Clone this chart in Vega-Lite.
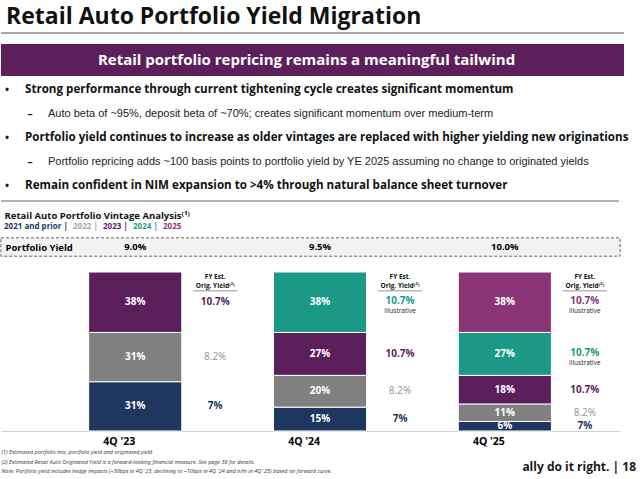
{
  "$schema": "https://vega.github.io/schema/vega-lite/v6.json",
  "padding": {"top": 6, "left": 0, "right": 0, "bottom": 0},
  "background": "white",
  "spacing": 0,
  "config": {
    "view": {"stroke": null},
    "font": "Open Sans",
    "title": {"font": "Open Sans"},
    "axis": {"labelFont": "Open Sans", "titleFont": "Open Sans"},
    "legend": {"labelFont": "Open Sans"}
  },
  "resolve": {"scale": {"color": "independent"}, "legend": {"color": "independent"}},
  "title": {
    "text": "ally do it right.  |  18",
    "orient": "bottom",
    "anchor": "end",
    "fontSize": 12,
    "fontWeight": "bold",
    "color": "#1a1a1a",
    "offset": -12,
    "dx": -5
  },
  "datasets": {
    "banner": [{"text": "Retail portfolio repricing remains a meaningful tailwind"}],
    "bullets": [
      {"line": 1, "level": "main", "text": "Strong performance through current tightening cycle creates significant momentum"},
      {"line": 2, "level": "sub", "text": "Auto beta of ~95%, deposit beta of ~70%; creates significant momentum over medium-term"},
      {"line": 3, "level": "main", "text": "Portfolio yield continues to increase as older vintages are replaced with higher yielding new originations"},
      {"line": 4, "level": "sub", "text": "Portfolio repricing adds ~100 basis points to portfolio yield by YE 2025 assuming no change to originated yields"},
      {"line": 5, "level": "main", "text": "Remain confident in NIM expansion to >4% through natural balance sheet turnover"}
    ],
    "yields": [
      {"quarter": "4Q '23", "yield": "9.0%"},
      {"quarter": "4Q '24", "yield": "9.5%"},
      {"quarter": "4Q '25", "yield": "10.0%"}
    ],
    "bars": [
      {"quarter": "4Q '23", "vintage": "2021 and prior", "share": 0.31, "orig": "7%", "note": ""},
      {"quarter": "4Q '23", "vintage": "2022", "share": 0.31, "orig": "8.2%", "note": ""},
      {"quarter": "4Q '23", "vintage": "2023", "share": 0.38, "orig": "10.7%", "note": ""},
      {"quarter": "4Q '24", "vintage": "2021 and prior", "share": 0.15, "orig": "7%", "note": ""},
      {"quarter": "4Q '24", "vintage": "2022", "share": 0.20, "orig": "8.2%", "note": ""},
      {"quarter": "4Q '24", "vintage": "2023", "share": 0.27, "orig": "10.7%", "note": ""},
      {"quarter": "4Q '24", "vintage": "2024", "share": 0.38, "orig": "10.7%", "note": "Illustrative"},
      {"quarter": "4Q '25", "vintage": "2021 and prior", "share": 0.06, "orig": "7%", "note": ""},
      {"quarter": "4Q '25", "vintage": "2022", "share": 0.11, "orig": "8.2%", "note": ""},
      {"quarter": "4Q '25", "vintage": "2023", "share": 0.18, "orig": "10.7%", "note": ""},
      {"quarter": "4Q '25", "vintage": "2024", "share": 0.27, "orig": "10.7%", "note": "Illustrative"},
      {"quarter": "4Q '25", "vintage": "2025", "share": 0.38, "orig": "10.7%", "note": "Illustrative"}
    ]
  },
  "vconcat": [
    {
      "spacing": 10,
      "vconcat": [
        {
          "title": {"text": "Retail Auto Portfolio Yield Migration", "anchor": "start", "fontSize": 23, "fontWeight": "bold", "color": "#111111", "offset": 3, "dx": 5},
          "width": 623,
          "height": 2,
          "view": {"fill": "#a6a6a6"},
          "data": {"values": []},
          "mark": "point"
        },
        {
          "width": 623,
          "height": 32,
          "view": {"fill": "#5c1f5c"},
          "data": {"name": "banner"},
          "mark": {"type": "text", "color": "white", "fontSize": 15, "fontWeight": "bold", "dx": -6},
          "encoding": {"text": {"field": "text"}}
        }
      ]
    },
    {
      "width": 640,
      "height": 124,
      "data": {"name": "bullets"},
      "encoding": {
        "y": {"field": "line", "type": "ordinal", "scale": {"type": "point", "padding": 0.583}, "axis": null}
      },
      "layer": [
        {
          "mark": {"type": "text", "align": "center", "fontSize": 11, "fontWeight": "bold", "color": "#1a1a1a"},
          "encoding": {
            "x": {"field": "level", "type": "nominal", "scale": {"type": "point", "domain": ["main", "sub"], "range": [6, 29], "padding": 0}, "axis": null},
            "text": {"condition": {"test": "datum.level == 'main'", "value": "•"}, "value": "–"}
          }
        },
        {
          "transform": [{"filter": "datum.level == 'main'"}],
          "mark": {"type": "text", "align": "left", "fontSize": 11.6, "fontWeight": "bold", "color": "#111111"},
          "encoding": {
            "x": {"field": "level", "type": "nominal", "scale": {"type": "point", "domain": ["main", "sub"], "range": [24, 47], "padding": 0}, "axis": null},
            "text": {"field": "text"}
          }
        },
        {
          "transform": [{"filter": "datum.level == 'sub'"}],
          "mark": {"type": "text", "align": "left", "fontSize": 11, "font": "Liberation Sans", "color": "#222222"},
          "encoding": {
            "x": {"field": "level", "type": "nominal", "scale": {"type": "point", "domain": ["main", "sub"], "range": [24, 47], "padding": 0}, "axis": null},
            "text": {"field": "text"}
          }
        }
      ],
      "resolve": {"scale": {"x": "independent"}}
    },
    {
      "spacing": 8,
      "resolve": {"scale": {"color": "independent"}, "legend": {"color": "independent"}},
      "vconcat": [
        {
          "width": 618,
          "height": 2,
          "view": {"fill": "#b3b3b3"},
          "data": {"values": []},
          "mark": "point"
        },
        {
          "width": 619,
          "height": 193,
          "title": {"text": "Retail Auto Portfolio Vintage Analysis⁽¹⁾", "anchor": "start", "fontSize": 9.5, "fontWeight": "bold", "color": "#111111", "offset": 3, "dx": 4},
          "layer": [
            {
              "data": {"name": "yields"},
              "mark": {"type": "rect", "fill": "#f2f2f2", "stroke": "#8c8c8c", "strokeDash": [3, 2], "strokeWidth": 1},
              "encoding": {
                "y": {
                  "datum": 1.10,
                  "type": "quantitative",
                  "scale": {"domain": [0, 1.214], "nice": false, "zero": true},
                  "axis": {
                    "values": [1.157],
                    "labelExpr": "'Portfolio Yield'",
                    "labelAlign": "left",
                    "labelBaseline": "middle",
                    "labelPadding": -4,
                    "tickSize": 0,
                    "ticks": false,
                    "domain": false,
                    "grid": false,
                    "title": null,
                    "minExtent": 0,
                    "zindex": 2,
                    "labelFontSize": 9.5,
                    "labelFontWeight": "bold",
                    "labelColor": "#000000"
                  }
                },
                "y2": {"datum": 1.214}
              }
            },
            {
              "data": {"name": "yields"},
              "mark": {"type": "text", "fontSize": 9.5, "fontWeight": "bold", "color": "#000000"},
              "encoding": {
                "x": {"field": "quarter", "type": "nominal"},
                "y": {"datum": 1.157, "type": "quantitative", "title": null},
                "text": {"field": "yield"}
              }
            },
            {
              "data": {"name": "yields"},
              "mark": {"type": "text", "fontSize": 6.5, "fontWeight": "bold", "color": "#111111", "dx": 80, "lineHeight": 9},
              "encoding": {
                "x": {"field": "quarter", "type": "nominal"},
                "y": {"datum": 0.969, "type": "quantitative", "title": null},
                "text": {"value": ["FY  Est.", "Orig. Yield⁽²⁾"]}
              }
            },
            {
              "data": {"name": "yields"},
              "mark": {"type": "tick", "color": "#333333", "thickness": 0.8, "size": 44, "xOffset": 80, "orient": "horizontal"},
              "encoding": {
                "x": {"field": "quarter", "type": "nominal"},
                "y": {"datum": 0.881, "type": "quantitative", "title": null}
              }
            },
            {
              "data": {"name": "bars"},
              "mark": {"type": "bar", "stroke": "white", "strokeWidth": 1},
              "encoding": {
                "x": {
                  "field": "quarter",
                  "type": "nominal",
                  "scale": {"type": "band", "paddingInner": 0.496, "paddingOuter": 0.4228, "align": 0.561},
                  "axis": {
                    "orient": "bottom",
                    "labelAngle": 0,
                    "labelFontSize": 10.5,
                    "labelFontWeight": "bold",
                    "labelColor": "#000000",
                    "labelPadding": 10,
                    "ticks": false,
                    "grid": false,
                    "domainColor": "#d0d0d0",
                    "domainWidth": 1,
                    "title": [
                      "(1)   Estimated portfolio mix, portfolio yield and originated yield.",
                      "(2)   Estimated Retail Auto Originated Yield is a forward-looking financial measure. See page 38 for details.",
                      "Note: Portfolio yield includes hedge impacts (~50bps in 4Q '23, declining to ~10bps in 4Q '24 and n/m in 4Q '25) based on forward curve."
                    ],
                    "titleAnchor": "start",
                    "titleAlign": "left",
                    "titleFontSize": 5.5,
                    "titleFontStyle": "italic",
                    "titleFontWeight": "normal",
                    "titleColor": "#333333",
                    "titlePadding": 3,
                    "titleLineHeight": 9.5
                  }
                },
                "y": {"field": "share", "type": "quantitative", "stack": "zero", "title": null},
                "order": {"field": "vintage", "sort": "ascending"},
                "color": {
                  "field": "vintage",
                  "type": "nominal",
                  "scale": {
                    "domain": ["2021 and prior", "2022", "2023", "2024", "2025"],
                    "range": ["#1f365f", "#808080", "#5b1f5b", "#1b9986", "#8b3579"]
                  },
                  "legend": {
                    "orient": "top",
                    "direction": "horizontal",
                    "title": null,
                    "symbolOpacity": 0,
                    "symbolSize": 1,
                    "symbolStrokeWidth": 0,
                    "labelOffset": -5,
                    "columnPadding": 2,
                    "gridAlign": "none",
                    "labelFontSize": 8,
                    "labelFontWeight": "bold",
                    "offset": 7,
                    "padding": 0,
                    "labelExpr": "datum.label == '2025' ? datum.label : datum.label + ' |'",
                    "labelColor": {"expr": "datum.value == '2021 and prior' ? '#1f365f' : datum.value == '2022' ? '#a6a6a6' : datum.value == '2023' ? '#5b1f5b' : datum.value == '2024' ? '#1b9986' : '#8b3579'"}
                  }
                }
              }
            },
            {
              "data": {"name": "bars"},
              "transform": [
                {"stack": "share", "groupby": ["quarter"], "sort": [{"field": "vintage", "order": "ascending"}], "as": ["y0", "y1"]},
                {"fold": ["y0", "y1"], "as": ["edge", "pos"]},
                {"aggregate": [{"op": "mean", "field": "pos", "as": "mid"}], "groupby": ["quarter", "vintage", "share", "orig", "note"]}
              ],
              "encoding": {
                "x": {"field": "quarter", "type": "nominal"},
                "y": {"field": "mid", "type": "quantitative", "stack": null, "title": null}
              },
              "layer": [
                {
                  "mark": {"type": "text", "fontSize": 10, "fontWeight": "bold", "color": "white"},
                  "encoding": {"text": {"field": "share", "type": "quantitative", "format": ".0%"}}
                },
                {
                  "transform": [{"filter": "datum.note == '' && datum.vintage != '2022'"}],
                  "mark": {"type": "text", "fontSize": 10, "fontWeight": "bold", "dx": 80},
                  "encoding": {"text": {"field": "orig"}, "color": {"field": "vintage", "type": "nominal"}}
                },
                {
                  "transform": [{"filter": "datum.vintage == '2022'"}],
                  "mark": {"type": "text", "fontSize": 10, "fontWeight": "normal", "dx": 80, "opacity": 0.85},
                  "encoding": {"text": {"field": "orig"}, "color": {"field": "vintage", "type": "nominal"}}
                },
                {
                  "transform": [{"filter": "datum.note != ''"}],
                  "mark": {"type": "text", "fontSize": 10, "fontWeight": "bold", "dx": 80, "dy": -1},
                  "encoding": {"text": {"field": "orig"}, "color": {"field": "vintage", "type": "nominal"}}
                },
                {
                  "transform": [{"filter": "datum.note != ''"}],
                  "mark": {"type": "text", "fontSize": 6.5, "color": "#222222", "dx": 80, "dy": 9},
                  "encoding": {"text": {"field": "note"}}
                }
              ]
            }
          ]
        }
      ]
    }
  ]
}
